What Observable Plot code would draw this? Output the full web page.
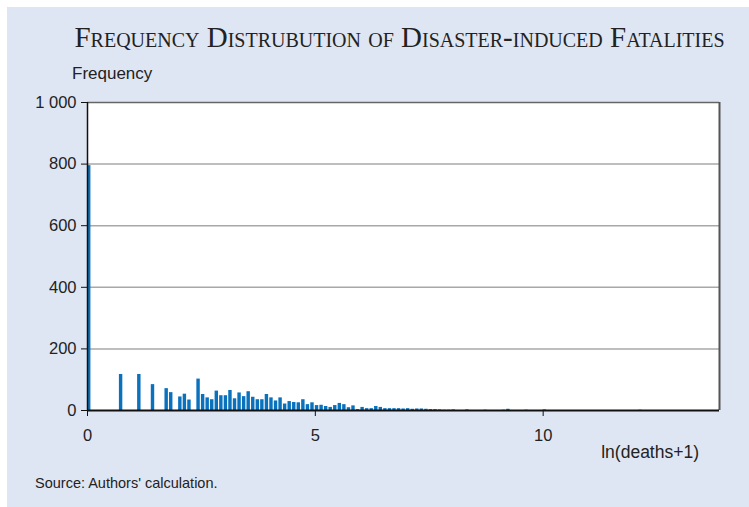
<!DOCTYPE html>
<html><head><meta charset="utf-8">
<script src="https://cdn.jsdelivr.net/npm/d3@7"></script>
<script src="https://cdn.jsdelivr.net/npm/@observablehq/plot@0.6"></script>
<style>
body{margin:0;background:#fff;width:749px;height:507px;overflow:hidden;position:relative;font-family:"Liberation Sans",Arial,sans-serif;color:#222;}
#panel{position:absolute;left:7px;top:7px;right:0;bottom:0;background:#dfe6f3;}
#title{position:absolute;left:0;width:799px;top:21px;text-align:center;font-family:"Liberation Serif","Times New Roman",serif;font-variant:small-caps;font-size:29px;color:#222;white-space:nowrap;}
#ylab{position:absolute;left:72px;top:64px;font-size:17px;}
#xlab{position:absolute;right:50px;top:442px;font-size:17.5px;}
#src{position:absolute;left:35px;top:475px;font-size:14.5px;}
#chart{position:absolute;left:0;top:0;}
</style></head>
<body>
<div id="panel"></div>
<div id="title">Frequency Distrubution of Disaster-induced Fatalities</div>
<div id="ylab">Frequency</div>
<div id="chart"></div>
<div id="xlab">ln(deaths+1)</div>
<div id="src">Source: Authors' calculation.</div>
<script>
const binStart = [0, 0.7, 1.1, 1.4, 1.7, 1.8, 2.0, 2.1, 2.2, 2.4, 2.5, 2.6, 2.7, 2.8, 2.9, 3.0, 3.1, 3.2, 3.3, 3.4, 3.5, 3.6, 3.7, 3.8, 3.9, 4.0, 4.1, 4.2, 4.3, 4.4, 4.5, 4.6, 4.7, 4.8, 4.9, 5.0, 5.1, 5.2, 5.3, 5.4, 5.5, 5.6, 5.7, 5.8, 5.9, 6.0, 6.1, 6.2, 6.3, 6.4, 6.5, 6.6, 6.7, 6.8, 6.9, 7.0, 7.1, 7.2, 7.3, 7.4, 7.5, 7.6, 7.7, 7.8, 7.9, 8.0, 8.3, 8.7, 9.1, 9.2, 9.6, 10.0, 12.1];
const frequency = [795, 117, 117, 84, 71, 58, 44, 53, 34, 102, 52, 41, 35, 63, 48, 48, 65, 38, 57, 45, 61, 43, 35, 35, 52, 41, 31, 41, 21, 29, 26, 25, 35, 19, 25, 16, 17, 13, 10, 16, 23, 19, 9, 15, 3, 10, 6, 6, 13, 10, 6, 6, 6, 6, 5, 6, 4, 5, 5, 4, 3, 3, 2, 1, 1, 2, 2, 1, 1, 4, 1, 2, 1];
const xTicks = [0, 5, 10];
const yTicks = [0, 200, 400, 600, 800, 1000];
const gridTicks = [200, 400, 600, 800];
const xMax = 13.87;
const binWidth = 0.075;

const data = binStart.map((x, i) => ({x, f: frequency[i]}));
const fmt = d => d3.format(",")(d).replace(",", " ");

const chart = Plot.plot({
  width: 749, height: 460,
  marginLeft: 87, marginRight: 30, marginTop: 102, marginBottom: 50,
  x: {domain: [0, xMax], label: null},
  y: {domain: [0, 1000], label: null},
  style: {background: "transparent", fontSize: "16.5px", fontFamily: "Liberation Sans, Arial, sans-serif", color: "#222"},
  marks: [
    Plot.frame({fill: "white", stroke: null}),
    Plot.ruleY(gridTicks, {stroke: "#a8a8a8", strokeWidth: 1.5}),
    Plot.rectY(data, {x1: "x", x2: d => d.x + binWidth, y: "f", fill: "#0a71bd"}),
    Plot.ruleY([1000], {stroke: "#666", strokeWidth: 1.5}),
    Plot.ruleX([xMax], {y1: 0, y2: 1000, stroke: "#555", strokeWidth: 2}),
    Plot.ruleX([0], {y1: 0, y2: 1000, stroke: "#111", strokeWidth: 1.5}),
    Plot.ruleY([0], {stroke: "#111", strokeWidth: 2}),
    Plot.axisX(xTicks, {tickSize: 6, tickPadding: 13, label: null, stroke: "#111"}),
    Plot.axisY(yTicks, {tickSize: 6, tickPadding: 5, tickFormat: fmt, label: null, stroke: "#111"})
  ]
});
document.getElementById("chart").appendChild(chart);
</script>
</body></html>
